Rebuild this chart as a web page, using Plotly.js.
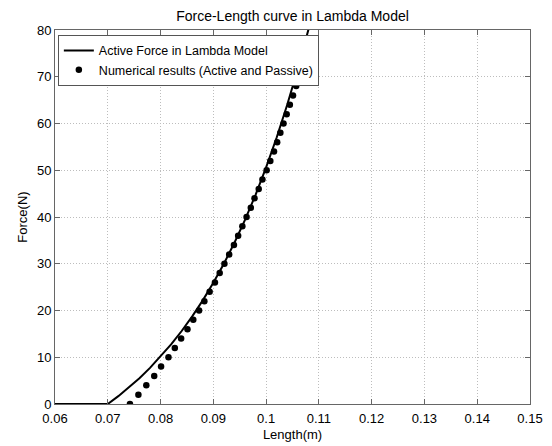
<!DOCTYPE html>
<html>
<head>
<meta charset="utf-8">
<script src="https://cdn.plot.ly/plotly-3.0.1.min.js"></script>
<style>html,body{margin:0;padding:0;background:#fff;}#chart{width:552px;height:446px;}</style>
</head>
<body>
<div id="chart"></div>
<script>
// Active force curve (Lambda model)
const activeLength = [0.060, 0.070, 0.072, 0.074, 0.076, 0.078, 0.080, 0.082, 0.084, 0.086, 0.088, 0.090, 0.092, 0.094, 0.096, 0.098, 0.100, 0.102, 0.104, 0.106, 0.108, 0.109];
const activeForce  = [0, 0, 1.68, 3.52, 5.52, 7.72, 10.12, 12.74, 15.61, 18.75, 22.17, 25.92, 30.02, 34.50, 39.40, 44.75, 50.61, 57.01, 64.01, 71.66, 80.02, 84.5];

// Numerical results (Active and Passive)
const numForce  = [0, 2, 4, 6, 8, 10, 12, 14, 16, 18, 20, 22, 24, 26, 28, 30, 32, 34, 36, 38, 40, 42, 44, 46, 48, 50, 52, 54, 56, 58, 60, 62, 64, 66, 68, 70];
const numLength = [0.0742, 0.0758, 0.0773, 0.0788, 0.0801, 0.0815, 0.0827, 0.0839, 0.0851, 0.0862, 0.0873, 0.0883, 0.0893, 0.0903, 0.0912, 0.0921, 0.0930, 0.0939, 0.0947, 0.0955, 0.0963, 0.0971, 0.0978, 0.0986, 0.0993, 0.1001, 0.1008, 0.1015, 0.1021, 0.1027, 0.1033, 0.1039, 0.1045, 0.1051, 0.1057, 0.1062];

const xTickVals = [0.06, 0.07, 0.08, 0.09, 0.10, 0.11, 0.12, 0.13, 0.14, 0.15];
const xTickText = ["0.06", "0.07", "0.08", "0.09", "0.1", "0.11", "0.12", "0.13", "0.14", "0.15"];
const yTickVals = [0, 10, 20, 30, 40, 50, 60, 70, 80];
const yTickText = ["0", "10", "20", "30", "40", "50", "60", "70", "80"];

const FONT = "Liberation Sans, Arial, Helvetica, sans-serif";

const traces = [
  {
    x: activeLength, y: activeForce, type: "scatter", mode: "lines",
    name: "Active Force in Lambda Model",
    line: {color: "#000", width: 2}
  },
  {
    x: numLength, y: numForce, type: "scatter", mode: "markers",
    name: "Numerical results (Active and Passive)",
    marker: {color: "#000", size: 6.5},
    cliponaxis: true
  }
];

const axisCommon = {
  showline: true, linecolor: "#666", linewidth: 1, mirror: "ticks",
  ticks: "inside", ticklen: 5, tickcolor: "#666",
  showgrid: true, gridcolor: "#bdbdbd", griddash: "1px,2px", gridwidth: 1,
  zeroline: false, tickfont: {family: FONT, size: 13, color: "#000"}
};

const layout = {
  width: 552, height: 446,
  margin: {l: 55, r: 22, t: 30, b: 42, pad: 0},
  paper_bgcolor: "#fff", plot_bgcolor: "#fff",
  title: {text: "Force-Length curve in Lambda Model", font: {family: FONT, size: 14, color: "#000"},
          x: 0.5, xref: "paper", xanchor: "center", y: 0.974, yanchor: "top"},
  xaxis: Object.assign({}, axisCommon, {
    range: [0.06, 0.15], tickmode: "array", tickvals: xTickVals, ticktext: xTickText,
    ticklabelstandoff: 2,
    title: {text: "Length(m)", font: {family: FONT, size: 13, color: "#000"}, standoff: 5}
  }),
  yaxis: Object.assign({}, axisCommon, {
    range: [0, 80], tickmode: "array", tickvals: yTickVals, ticktext: yTickText,
    title: {text: "Force(N)", font: {family: FONT, size: 13, color: "#000"}, standoff: 6}
  }),
  showlegend: true,
  legend: {
    x: 0.006, y: 0.987, xanchor: "left", yanchor: "top",
    bgcolor: "#fff", bordercolor: "#555", borderwidth: 1,
    font: {family: FONT, size: 12.5, color: "#000"},
    tracegroupgap: 0
  }
};

Plotly.newPlot("chart", traces, layout, {staticPlot: true, displayModeBar: false});
</script>
</body>
</html>
